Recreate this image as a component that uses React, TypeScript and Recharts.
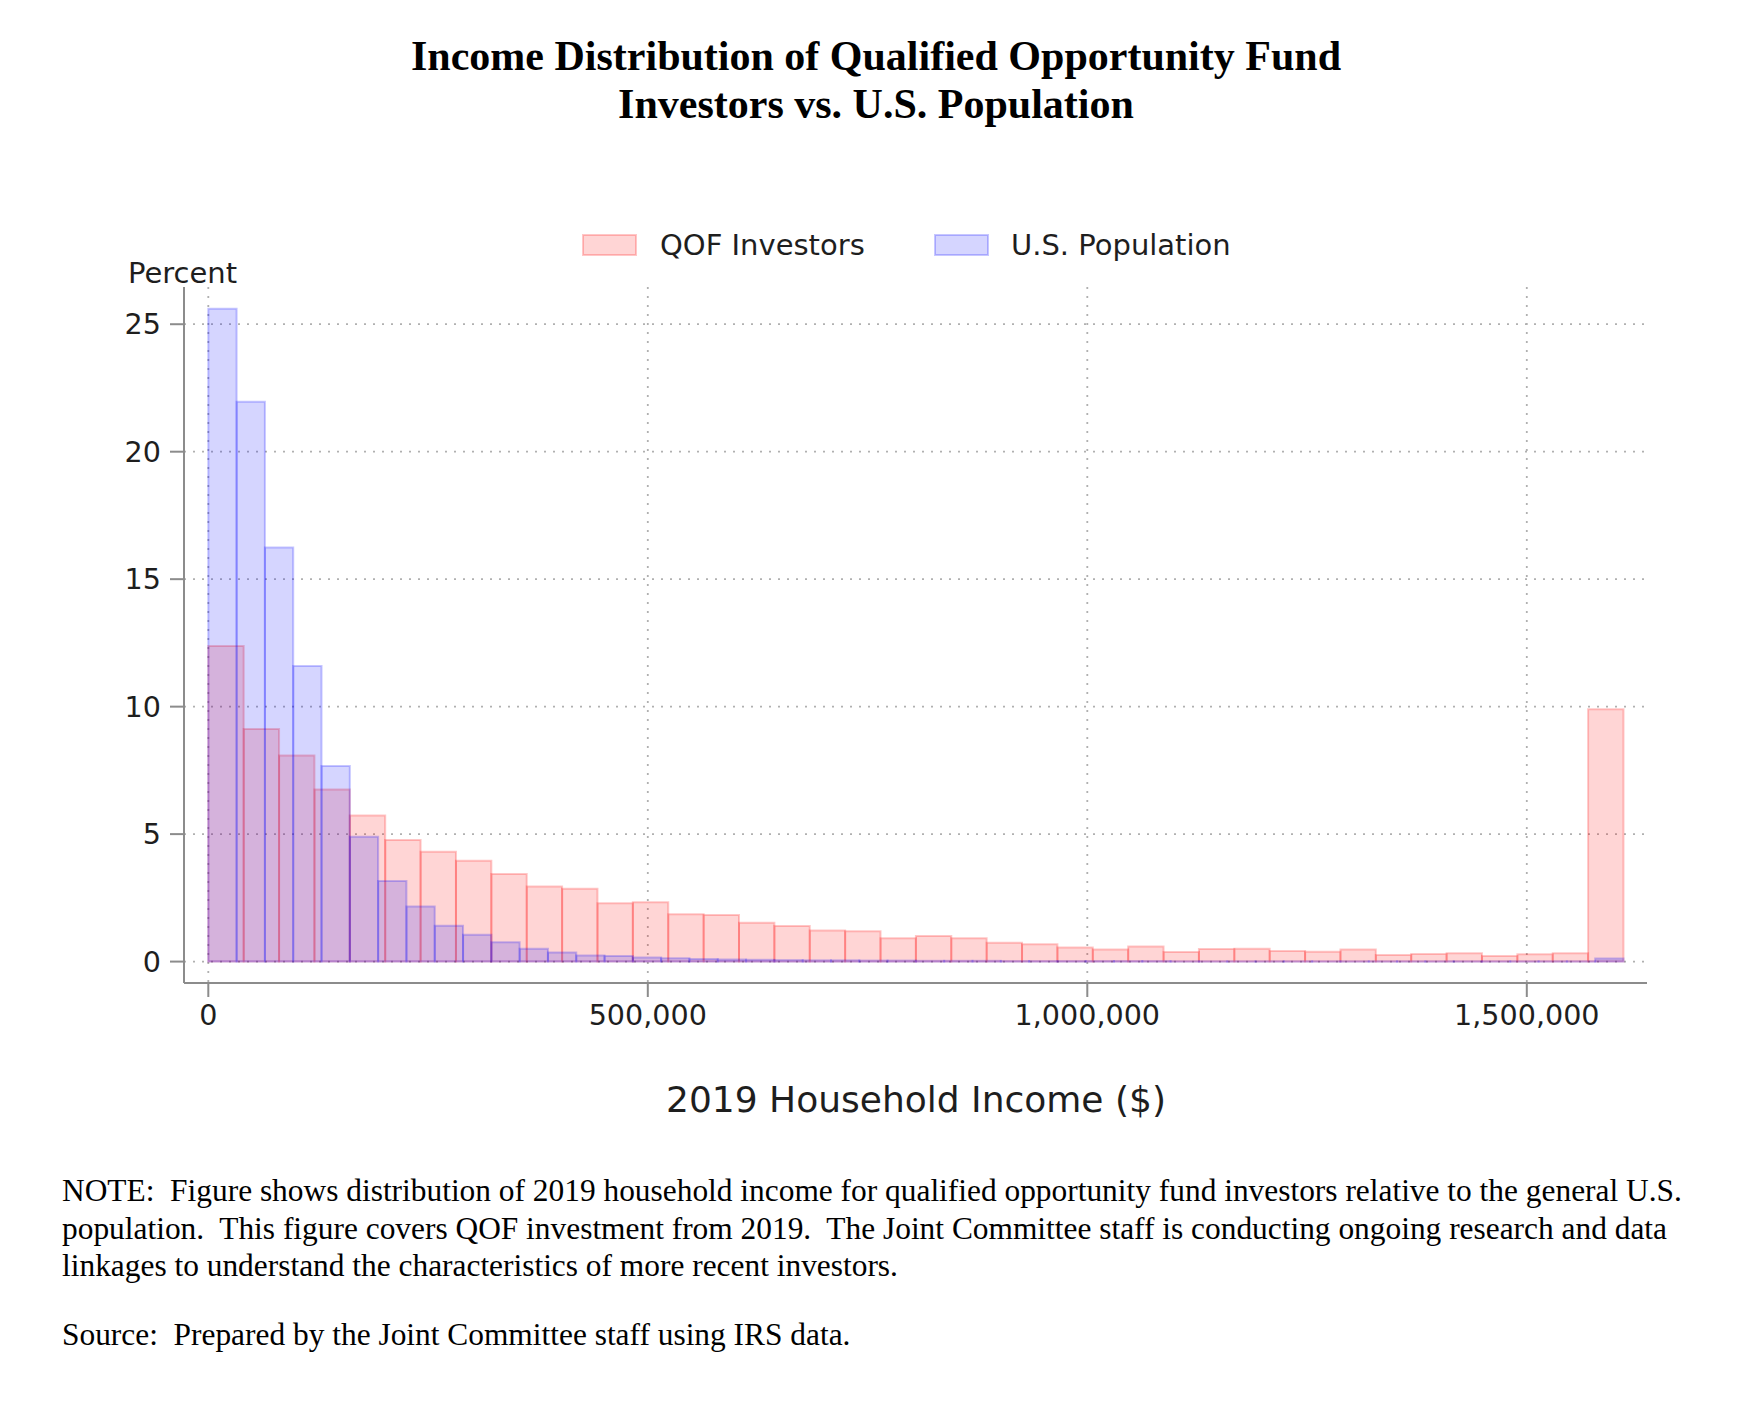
import React from 'react';
import { ComposedChart, XAxis, YAxis, CartesianGrid, ReferenceArea } from 'recharts';

// Upper end of the income range (top-coded bin included)
const INCOME_TOP = 1610000;

// Percent of QOF investors per income bin (40 equal-width bins)
const qofShares = [
  12.38, 9.12, 8.08, 6.75, 5.73, 4.77, 4.31, 3.96, 3.44, 2.95,
  2.86, 2.29, 2.33, 1.86, 1.83, 1.52, 1.4, 1.22, 1.19, 0.92,
  1.0, 0.92, 0.74, 0.68, 0.55, 0.47, 0.59, 0.38, 0.49, 0.5,
  0.42, 0.39, 0.47, 0.26, 0.3, 0.33, 0.22, 0.29, 0.33, 9.9,
];

// Percent of U.S. households per income bin (50 equal-width bins)
const popShares = [
  25.61, 21.96, 16.24, 11.59, 7.67, 4.9, 3.16, 2.16, 1.41, 1.05,
  0.76, 0.5, 0.36, 0.24, 0.22, 0.16, 0.13, 0.1, 0.08, 0.07,
  0.06, 0.05, 0.05, 0.04, 0.04, 0.03, 0.03, 0.03, 0.02, 0.02,
  0.02, 0.02, 0.02, 0.02, 0.01, 0.01, 0.01, 0.01, 0.01, 0.01,
  0.01, 0.01, 0.01, 0.01, 0.01, 0.01, 0.01, 0.01, 0.01, 0.12,
];

const xTicks = [0, 500000, 1000000, 1500000];
const yTicks = [0, 5, 10, 15, 20, 25];
const seriesNames = ['QOF Investors', 'U.S. Population'];

const titleLines = [
  'Income Distribution of Qualified Opportunity Fund',
  'Investors vs. U.S. Population',
];
const noteLines = [
  'NOTE:  Figure shows distribution of 2019 household income for qualified opportunity fund investors relative to the general U.S.',
  'population.  This figure covers QOF investment from 2019.  The Joint Committee staff is conducting ongoing research and data',
  'linkages to understand the characteristics of more recent investors.',
];
const sourceLine = 'Source:  Prepared by the Joint Committee staff using IRS data.';

type Bin = { lo: number; hi: number; pct: number };

function toBins(shares: number[]): Bin[] {
  const w = INCOME_TOP / shares.length;
  return shares.map((pct, i) => ({ lo: i * w, hi: (i + 1) * w, pct }));
}

const qofBins = toBins(qofShares);
const popBins = toBins(popShares);

const SANS = 'DejaVu Sans, Verdana, sans-serif';
const SERIF = '"Liberation Serif", "Times New Roman", serif';
const AXIS_GRAY = '#8c8c8c';
const TEXT = '#1e1e1e';

const RED = '#ff0000';
const BLUE = '#0000ff';
const FILL_OP = 0.165;
const EDGE_OP = 0.22;

export default function App() {
  return (
    <div style={{ position: 'absolute', left: 0, top: 0, width: 1738, height: 1416, background: '#fff' }}>
      <ComposedChart
        width={1738}
        height={1416}
        data={popBins}
        margin={{ top: 287, right: 91, bottom: 373, left: 84 }}
      >
        <CartesianGrid
          stroke="#b0b0b0"
          strokeWidth={1.8}
          strokeDasharray="2 7"
          horizontalValues={yTicks}
          verticalValues={xTicks}
        />
        <XAxis
          type="number"
          dataKey="lo"
          domain={[-27650, 1636750]}
          allowDataOverflow
          ticks={xTicks}
          interval={0}
          tickFormatter={(v: number) => v.toLocaleString('en-US')}
          height={60}
          stroke={AXIS_GRAY}
          strokeWidth={2}
          tickSize={14}
          tickMargin={8}
          tick={{ fill: TEXT, fontSize: 28.6, fontFamily: SANS }}
        />
        <YAxis
          type="number"
          domain={[-0.84, 26.46]}
          allowDataOverflow
          ticks={yTicks}
          interval={0}
          width={100}
          stroke={AXIS_GRAY}
          strokeWidth={2}
          tickSize={14}
          tickMargin={9}
          tick={{ fill: TEXT, fontSize: 28.6, fontFamily: SANS }}
        />
        {qofBins.map((b, i) => (
          <ReferenceArea
            key={`q${i}`}
            x1={b.lo}
            x2={b.hi}
            y1={0}
            y2={b.pct}
            fill={RED}
            fillOpacity={FILL_OP}
            stroke={RED}
            strokeOpacity={EDGE_OP}
            strokeWidth={2}
            ifOverflow="visible"
          />
        ))}
        {popBins.map((b, i) => (
          <ReferenceArea
            key={`p${i}`}
            x1={b.lo}
            x2={b.hi}
            y1={0}
            y2={b.pct}
            fill={BLUE}
            fillOpacity={FILL_OP}
            stroke={BLUE}
            strokeOpacity={EDGE_OP}
            strokeWidth={2}
            ifOverflow="visible"
          />
        ))}
      </ComposedChart>

      <svg
        width={1738}
        height={1416}
        style={{ position: 'absolute', left: 0, top: 0, pointerEvents: 'none' }}
      >
        {/* heading */}
        <text x={876} y={70} textAnchor="middle" fontFamily={SERIF} fontWeight="bold" fontSize={42} fill="#000">
          {titleLines[0]}
        </text>
        <text x={876} y={118} textAnchor="middle" fontFamily={SERIF} fontWeight="bold" fontSize={42} fill="#000">
          {titleLines[1]}
        </text>

        {/* legend */}
        <rect x={583} y={235} width={53} height={20} fill={RED} fillOpacity={FILL_OP} stroke={RED} strokeOpacity={EDGE_OP} strokeWidth={2} />
        <text x={660} y={255} fontFamily={SANS} fontSize={29} fill={TEXT}>{seriesNames[0]}</text>
        <rect x={935} y={235} width={53} height={20} fill={BLUE} fillOpacity={FILL_OP} stroke={BLUE} strokeOpacity={EDGE_OP} strokeWidth={2} />
        <text x={1011} y={255} fontFamily={SANS} fontSize={29} fill={TEXT}>{seriesNames[1]}</text>

        {/* axis titles */}
        <text x={128} y={283} fontFamily={SANS} fontSize={29} fill={TEXT}>Percent</text>
        <text x={916} y={1112} textAnchor="middle" fontFamily={SANS} fontSize={36} fill={TEXT}>
          2019 Household Income ($)
        </text>

        {/* notes */}
        {noteLines.map((line, i) => (
          <text key={i} x={62} y={1201 + i * 37.5} fontFamily={SERIF} fontSize={31.4} fill="#000" style={{ whiteSpace: 'pre' }}>
            {line}
          </text>
        ))}
        <text x={62} y={1345} fontFamily={SERIF} fontSize={31.4} fill="#000" style={{ whiteSpace: 'pre' }}>
          {sourceLine}
        </text>
      </svg>
    </div>
  );
}
